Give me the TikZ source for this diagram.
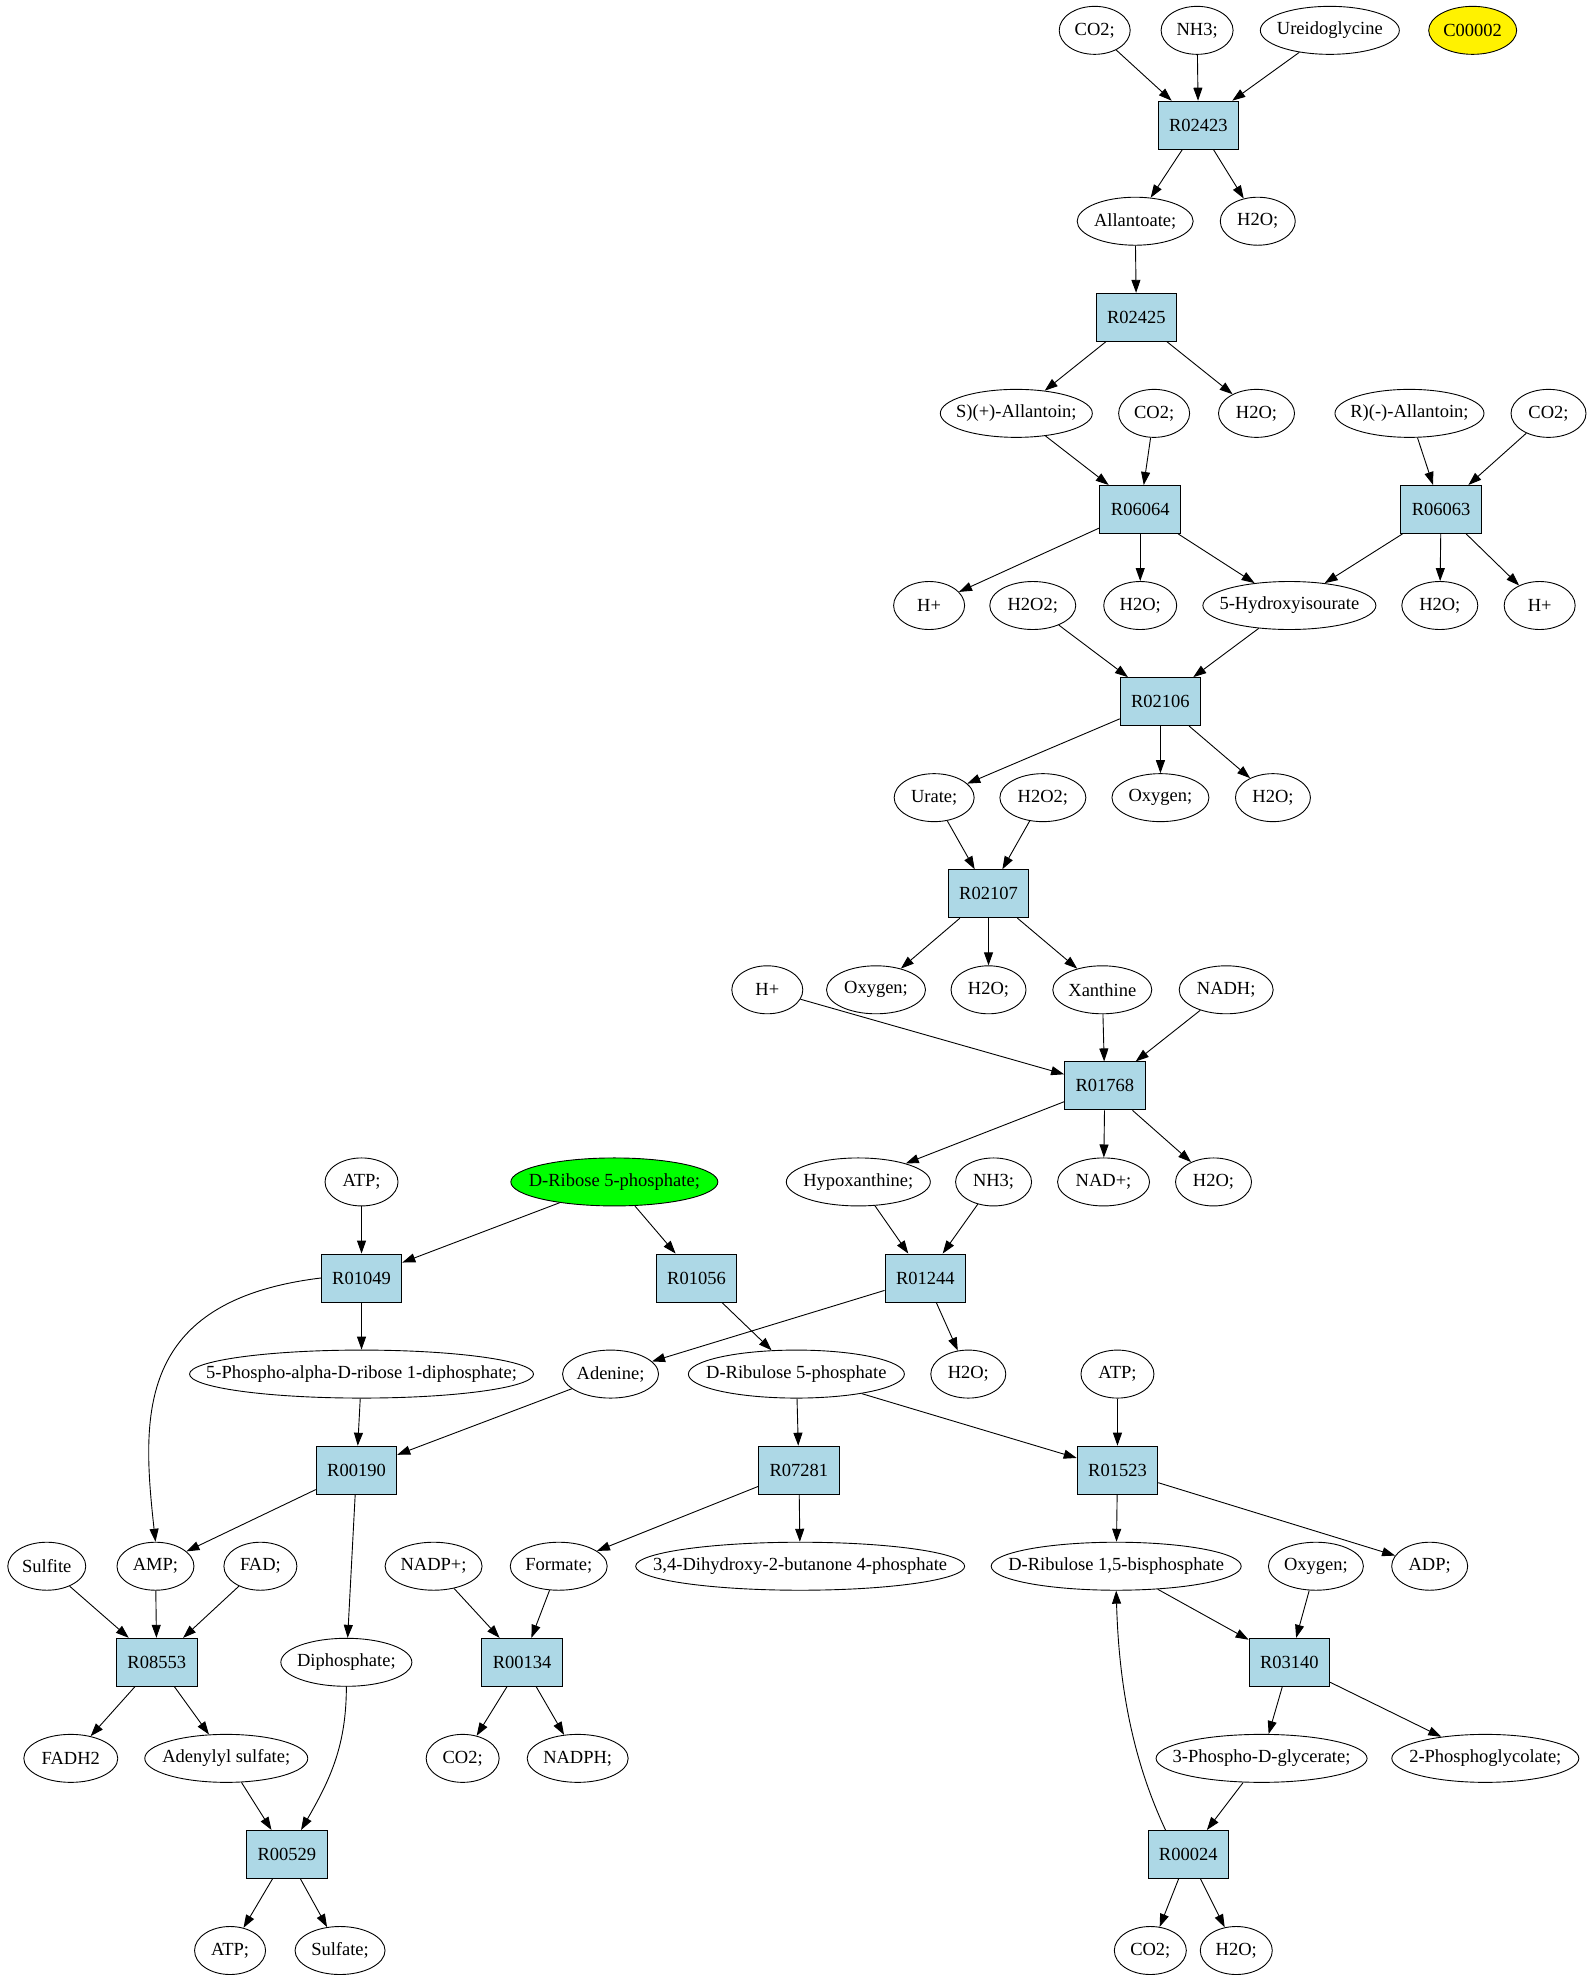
\documentclass[tikz,border=0pt]{standalone}
\usepackage{fontspec}
\setmainfont{Liberation Serif}
\usepackage{xcolor}
\usepackage{tikz}
\usetikzlibrary{shapes.geometric}
\usetikzlibrary{arrows.meta}
\definecolor{rxnblue}{HTML}{ADD8E6}
\tikzset{kegg-line/.style={line width=0.9pt}}
\tikzset{>={Triangle[length=13pt, width=9pt]}}
\tikzset{kegg-reaction/.style={draw, line width=0.9pt, fill=rxnblue, inner xsep=11pt, inner ysep=0pt, minimum height=48pt, font=\fontsize{18.5}{20}\selectfont}}
\tikzset{kegg-compound/.style={draw, ellipse, line width=0.9pt, inner sep=0pt, minimum height=48pt, minimum width=#1pt, font=\fontsize{18.5}{20}\selectfont, execute at begin node={\hbox to 0pt\bgroup\hss}, execute at end node={\hss\egroup}}}

\begin{document}
\begin{tikzpicture}[x=1.2641pt, y=-1.2641pt]
            \useasboundingbox (0,0) rectangle (1257.05,1565.55);

            % purine part
            \node[kegg-compound=71] (co2-1) at (866,24) {CO2;};
            \node[kegg-compound=72] (nh3-1) at (947,24) {NH3;};
            \node[kegg-compound=139] (ureido) at (1052,24) {Ureidoglycine};
            \node[kegg-compound=88, fill=yellow] (c00002) at (1165,24) {C00002};
            \node[kegg-reaction] (r02423) at (948,99) {R02423};
            \node[kegg-compound=116] (allantoate) at (898,175) {Allantoate;};
            \node[kegg-compound=75] (h2o-1) at (995,175) {H2O;};
            \node[kegg-reaction] (r02425) at (899,251) {R02425};
            \node[kegg-compound=152] (sallantoin) at (804,327) {S)(+)-Allantoin;};
            \node[kegg-compound=71] (co2-2) at (913,327) {CO2;};
            \node[kegg-compound=76] (h2o-2) at (994,327) {H2O;};
            \node[kegg-compound=149] (rallantoin) at (1115,327) {R)(-)-Allantoin;};
            \node[kegg-compound=75] (co2-3) at (1225,327) {CO2;};
            \node[kegg-reaction] (r06064) at (902,403) {R06064};
            \node[kegg-reaction] (r06063) at (1140,403) {R06063};
            \node[kegg-compound=71] (hplus-1) at (735,479) {H+};
            \node[kegg-compound=86] (h2o2-1) at (817,479) {H2O2;};
            \node[kegg-compound=73] (h2o-3) at (902,479) {H2O;};
            \node[kegg-compound=173] (hydroxyisourate) at (1020,479) {5-Hydroxyisourate};
            \node[kegg-compound=76] (h2o-4) at (1139,479) {H2O;};
            \node[kegg-compound=71] (hplus-2) at (1218,479) {H+};
            \node[kegg-reaction] (r02106) at (918,555) {R02106};
            \node[kegg-compound=80] (urate) at (739,631) {Urate;};
            \node[kegg-compound=86] (h2o2-2) at (825,631) {H2O2;};
            \node[kegg-compound=97] (oxygen-1) at (918,631) {Oxygen;};
            \node[kegg-compound=75] (h2o-5) at (1007,631) {H2O;};
            \node[kegg-reaction] (r02107) at (782,707) {R02107};
            \node[kegg-compound=71] (hplus-3) at (607,783) {H+};
            \node[kegg-compound=99] (oxygen-2) at (693,783) {Oxygen;};
            \node[kegg-compound=75] (h2o-6) at (782,783) {H2O;};
            \node[kegg-compound=99] (xanthine) at (872,783) {Xanthine};
            \node[kegg-compound=94] (nadh) at (970,783) {NADH;};
            \node[kegg-reaction] (r01768) at (874,859) {R01768};
            \node[kegg-compound=144] (hypoxanthine) at (679,935) {Hypoxanthine;};
            \node[kegg-compound=76] (nh3-2) at (786,935) {NH3;};
            \node[kegg-compound=92] (nadplus) at (873,935) {NAD+;};
            \node[kegg-compound=76] (h2o-7) at (960,935) {H2O;};

            % ribose part
            \node[kegg-compound=73] (atp-1) at (286,935) {ATP;};
            \node[kegg-compound=207, fill=green] (ribose5p) at (486,935) {D-Ribose 5-phosphate;};
            \node[kegg-reaction] (r01049) at (286,1011) {R01049};
            \node[kegg-reaction] (r01056) at (551,1011) {R01056};
            \node[kegg-reaction] (r01244) at (732,1011) {R01244};
            \node[kegg-compound=344] (prpp) at (286,1087) {5-Phospho-alpha-D-ribose 1-diphosphate;};
            \node[kegg-compound=96] (adenine) at (483,1087) {Adenine;};
            \node[kegg-compound=216] (ribulose5p) at (630,1087) {D-Ribulose 5-phosphate};
            \node[kegg-compound=75] (h2o-8) at (766,1087) {H2O;};
            \node[kegg-compound=73] (atp-2) at (884,1087) {ATP;};
            \node[kegg-reaction] (r00190) at (282,1163) {R00190};
            \node[kegg-reaction] (r07281) at (632,1163) {R07281};
            \node[kegg-reaction] (r01523) at (884,1163) {R01523};
            \node[kegg-compound=78] (sulfite) at (37,1239) {Sulfite};
            \node[kegg-compound=77] (amp) at (123,1239) {AMP;};
            \node[kegg-compound=73] (fad) at (206,1239) {FAD;};
            \node[kegg-compound=97] (nadpplus) at (343,1239) {NADP+;};
            \node[kegg-compound=97] (formate) at (442,1239) {Formate;};
            \node[kegg-compound=329] (dhbp) at (633,1239) {3,4-Dihydroxy-2-butanone 4-phosphate};
            \node[kegg-compound=250] (rubp) at (883,1239) {D-Ribulose 1,5-bisphosphate};
            \node[kegg-compound=95] (oxygen-3) at (1041,1239) {Oxygen;};
            \node[kegg-compound=76] (adp) at (1131,1239) {ADP;};
            \node[kegg-reaction] (r08553) at (124,1315) {R08553};
            \node[kegg-compound=131] (diphosphate) at (274,1315) {Diphosphate;};
            \node[kegg-reaction] (r00134) at (413,1315) {R00134};
            \node[kegg-reaction] (r03140) at (1020,1315) {R03140};
            \node[kegg-compound=94] (fadh2) at (56,1391) {FADH2};
            \node[kegg-compound=163] (aps) at (179,1391) {Adenylyl sulfate;};
            \node[kegg-compound=73] (co2-4) at (366,1391) {CO2;};
            \node[kegg-compound=101] (nadph) at (457,1391) {NADPH;};
            \node[kegg-compound=211] (pga) at (998,1391) {3-Phospho-D-glycerate;};
            \node[kegg-compound=187] (pglycolate) at (1175,1391) {2-Phosphoglycolate;};
            \node[kegg-reaction] (r00529) at (227,1467) {R00529};
            \node[kegg-reaction] (r00024) at (940,1467) {R00024};
            \node[kegg-compound=71] (atp-3) at (182,1543) {ATP;};
            \node[kegg-compound=90] (sulfate) at (269,1543) {Sulfate;};
            \node[kegg-compound=72] (co2-5) at (910,1543) {CO2;};
            \node[kegg-compound=72] (h2o-9) at (978,1543) {H2O;};

            \draw[->, kegg-line] (co2-1) -- (r02423);
            \draw[->, kegg-line] (nh3-1) -- (r02423);
            \draw[->, kegg-line] (ureido) -- (r02423);
            \draw[->, kegg-line] (r02423) -- (allantoate);
            \draw[->, kegg-line] (r02423) -- (h2o-1);
            \draw[->, kegg-line] (allantoate) -- (r02425);
            \draw[->, kegg-line] (r02425) -- (sallantoin);
            \draw[->, kegg-line] (r02425) -- (h2o-2);
            \draw[->, kegg-line] (sallantoin) -- (r06064);
            \draw[->, kegg-line] (co2-2) -- (r06064);
            \draw[->, kegg-line] (rallantoin) -- (r06063);
            \draw[->, kegg-line] (co2-3) -- (r06063);
            \draw[->, kegg-line] (r06064) -- (hplus-1);
            \draw[->, kegg-line] (r06064) -- (h2o-3);
            \draw[->, kegg-line] (r06064) -- (hydroxyisourate);
            \draw[->, kegg-line] (r06063) -- (hydroxyisourate);
            \draw[->, kegg-line] (r06063) -- (h2o-4);
            \draw[->, kegg-line] (r06063) -- (hplus-2);
            \draw[->, kegg-line] (h2o2-1) -- (r02106);
            \draw[->, kegg-line] (hydroxyisourate) -- (r02106);
            \draw[->, kegg-line] (r02106) -- (urate);
            \draw[->, kegg-line] (r02106) -- (oxygen-1);
            \draw[->, kegg-line] (r02106) -- (h2o-5);
            \draw[->, kegg-line] (urate) -- (r02107);
            \draw[->, kegg-line] (h2o2-2) -- (r02107);
            \draw[->, kegg-line] (r02107) -- (oxygen-2);
            \draw[->, kegg-line] (r02107) -- (h2o-6);
            \draw[->, kegg-line] (r02107) -- (xanthine);
            \draw[->, kegg-line] (hplus-3) -- (r01768);
            \draw[->, kegg-line] (xanthine) -- (r01768);
            \draw[->, kegg-line] (nadh) -- (r01768);
            \draw[->, kegg-line] (r01768) -- (hypoxanthine);
            \draw[->, kegg-line] (r01768) -- (nadplus);
            \draw[->, kegg-line] (r01768) -- (h2o-7);
            \draw[->, kegg-line] (hypoxanthine) -- (r01244);
            \draw[->, kegg-line] (nh3-2) -- (r01244);

            \draw[->, kegg-line] (atp-1) -- (r01049);
            \draw[->, kegg-line] (ribose5p) -- (r01049);
            \draw[->, kegg-line] (ribose5p) -- (r01056);
            \draw[->, kegg-line] (r01049) -- (prpp);
            \draw[->, kegg-line] (r01049.west)
                .. controls (107,1029) and (112,1120) .. (amp.north);
            \draw[->, kegg-line] (r01056) -- (ribulose5p);
            \draw[->, kegg-line] (r01244) -- (adenine);
            \draw[->, kegg-line] (r01244) -- (h2o-8);
            \draw[->, kegg-line] (prpp) -- (r00190);
            \draw[->, kegg-line] (adenine) -- (r00190);
            \draw[->, kegg-line] (ribulose5p) -- (r07281);
            \draw[->, kegg-line] (ribulose5p) -- (r01523);
            \draw[->, kegg-line] (atp-2) -- (r01523);
            \draw[->, kegg-line] (r00190) -- (amp);
            \draw[->, kegg-line] (r00190) -- (diphosphate);
            \draw[->, kegg-line] (r07281) -- (formate);
            \draw[->, kegg-line] (r07281) -- (dhbp);
            \draw[->, kegg-line] (r01523) -- (rubp);
            \draw[->, kegg-line] (r01523) -- (adp);
            \draw[->, kegg-line] (sulfite) -- (r08553);
            \draw[->, kegg-line] (amp) -- (r08553);
            \draw[->, kegg-line] (fad) -- (r08553);
            \draw[->, kegg-line] (nadpplus) -- (r00134);
            \draw[->, kegg-line] (formate) -- (r00134);
            \draw[->, kegg-line] (rubp) -- (r03140);
            \draw[->, kegg-line] (oxygen-3) -- (r03140);
            \draw[->, kegg-line] (r08553) -- (fadh2);
            \draw[->, kegg-line] (r08553) -- (aps);
            \draw[->, kegg-line] (r00134) -- (co2-4);
            \draw[->, kegg-line] (r00134) -- (nadph);
            \draw[->, kegg-line] (r03140) -- (pga);
            \draw[->, kegg-line] (r03140) -- (pglycolate);
            \draw[->, kegg-line] (aps) -- (r00529);
            \draw[->, kegg-line] (diphosphate) to[out=-90, in=60] (r00529);
            \draw[->, kegg-line] (pga) -- (r00024);
            \draw[->, kegg-line] ([xshift=18pt]r00024.north west)
                .. controls (895,1390) and (885,1330) .. (rubp.south);
            \draw[->, kegg-line] (r00529) -- (atp-3);
            \draw[->, kegg-line] (r00529) -- (sulfate);
            \draw[->, kegg-line] (r00024) -- (co2-5);
            \draw[->, kegg-line] (r00024) -- (h2o-9);

        \end{tikzpicture}
\end{document}
